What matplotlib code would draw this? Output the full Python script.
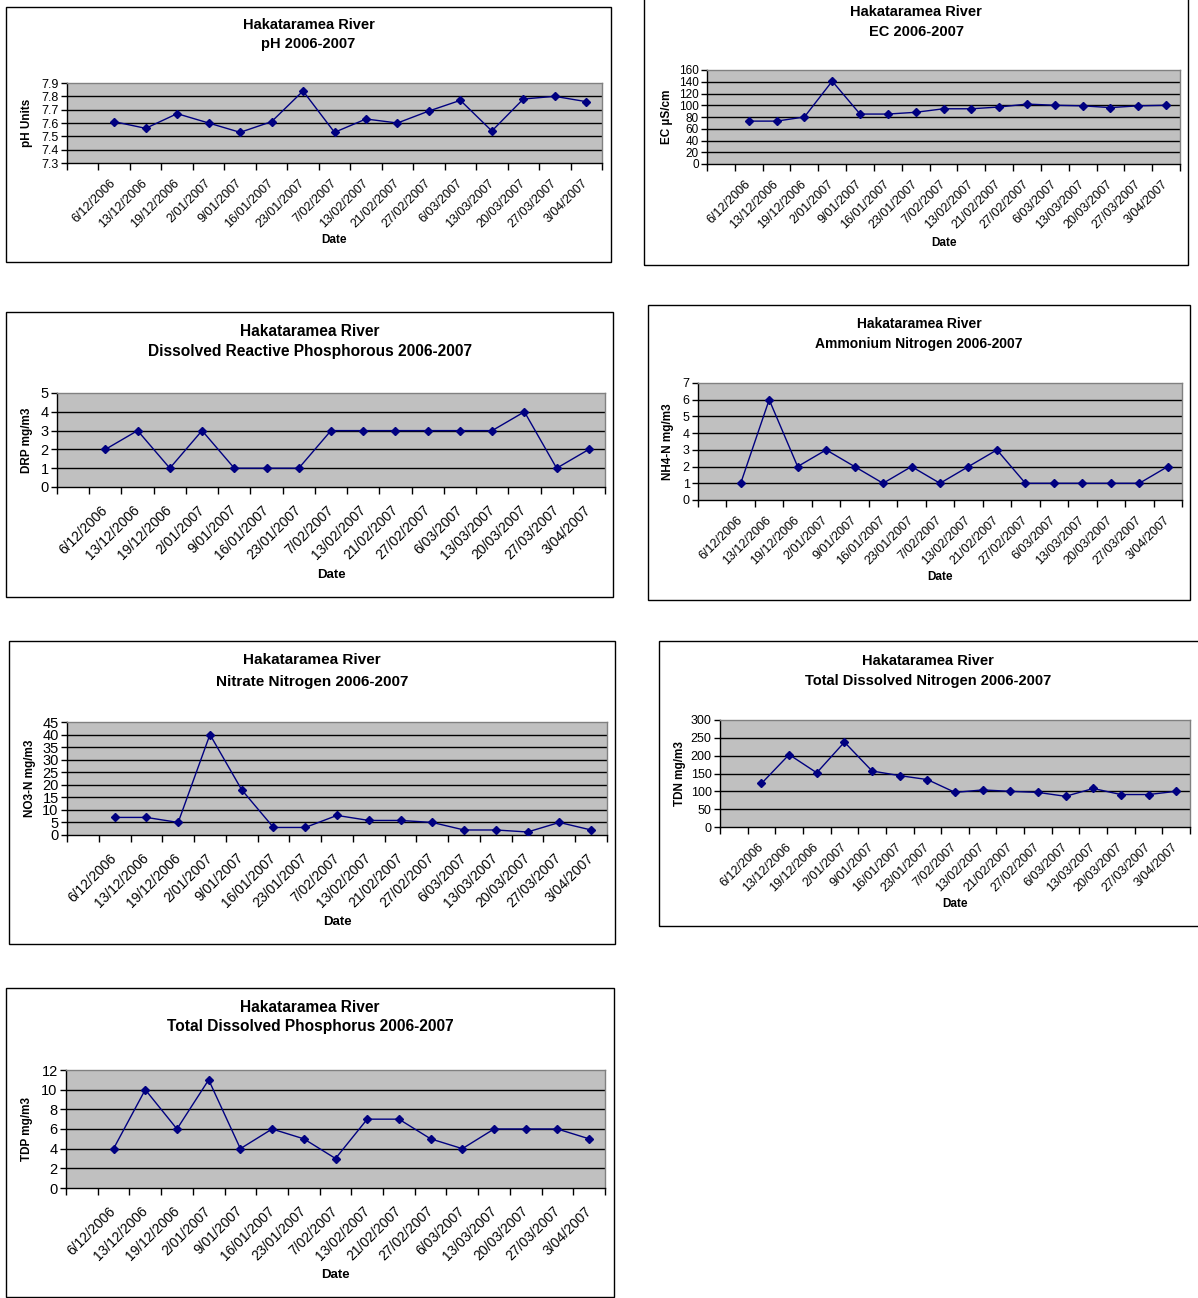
import numpy as np
import matplotlib
matplotlib.use("Agg")
import matplotlib.pyplot as plt
from matplotlib.patches import Rectangle

plt.rcParams['font.family'] = ['Liberation Sans', 'DejaVu Sans']

# ---------------- data ----------------
dates = ["6/12/2006", "13/12/2006", "19/12/2006", "2/01/2007", "9/01/2007",
         "16/01/2007", "23/01/2007", "7/02/2007", "13/02/2007", "21/02/2007",
         "27/02/2007", "6/03/2007", "13/03/2007", "20/03/2007", "27/03/2007",
         "3/04/2007"]

ph_vals = [7.61, 7.56, 7.67, 7.60, 7.53, 7.61, 7.84, 7.53, 7.63, 7.60,
           7.69, 7.77, 7.54, 7.78, 7.80, 7.76]
ec_vals = [73, 73, 80, 141, 85, 85, 88, 94, 94, 97, 102, 100, 99, 96, 99, 100]
drp_vals = [2, 3, 1, 3, 1, 1, 1, 3, 3, 3, 3, 3, 3, 4, 1, 2]
nh4_vals = [1, 6, 2, 3, 2, 1, 2, 1, 2, 3, 1, 1, 1, 1, 1, 2]
no3_vals = [7, 7, 5, 40, 18, 3, 3, 7.8, 5.8, 5.8, 5, 2, 2, 1.2, 5, 2]
tdn_vals = [122, 203, 152, 238, 157, 144, 133, 97, 104, 100, 97, 86, 108, 91, 91, 100]
tdp_vals = [4, 10, 6, 11, 4, 6, 5, 3, 7, 7, 5, 4, 6, 6, 6, 5]

ph_ticks = [7.3, 7.4, 7.5, 7.6, 7.7, 7.8, 7.9]
ec_ticks = [0, 20, 40, 60, 80, 100, 120, 140, 160]
drp_ticks = [0, 1, 2, 3, 4, 5]
nh4_ticks = [0, 1, 2, 3, 4, 5, 6, 7]
no3_ticks = [0, 5, 10, 15, 20, 25, 30, 35, 40, 45]
tdn_ticks = [0, 50, 100, 150, 200, 250, 300]
tdp_ticks = [0, 2, 4, 6, 8, 10, 12]

river = "Hakataramea River"

W, H = 1198, 1298
fig = plt.figure(figsize=(W / 100, H / 100), dpi=100)
fig.patch.set_facecolor('white')


def fx(x):
    return x / W


def fy(y):
    return 1 - y / H


def panel(box, plot, title2, ylabel, vals, yticks, yfmt, title_y, ylabel_x, date_y,
          ytick_fs=9, date_fs=9, pad=13, title_cx=None, title_fs=10.5):
    bx0, by0, bx1, by1 = box
    fig.patches.append(Rectangle((fx(bx0), fy(by1)), fx(bx1 - bx0), (by1 - by0) / H,
                                 transform=fig.transFigure, facecolor='none',
                                 edgecolor='black', linewidth=1.0, zorder=0))
    px0, py0, px1, py1 = plot
    ax = fig.add_axes([fx(px0), fy(py1), fx(px1 - px0), (py1 - py0) / H])
    ax.set_facecolor('#C0C0C0')
    n = len(dates) + 1
    xs = np.arange(1, len(vals) + 1)
    ax.plot(xs, vals, color='#000080', linewidth=1.0, marker='D', markersize=4,
            markerfacecolor='#000080', markeredgecolor='#000080', zorder=3)
    ax.set_xlim(-0.5, n - 0.5)
    ax.set_ylim(yticks[0], yticks[-1])
    for t in yticks[1:-1]:
        ax.axhline(t, color='black', linewidth=1.0, zorder=1)
    ax.set_yticks(yticks)
    ax.set_yticklabels([yfmt.format(t) for t in yticks], fontsize=ytick_fs)
    ax.set_xticks(np.arange(1, len(dates) + 1))
    ax.set_xticklabels(dates, rotation=45, ha='right', va='center',
                       rotation_mode='anchor', fontsize=date_fs)
    ax.set_xticks(np.arange(0, n + 1) - 0.5, minor=True)
    ax.tick_params(axis='x', which='major', length=0, pad=pad)
    ax.tick_params(axis='x', which='minor', length=5, width=1, color='black', direction='out')
    ax.tick_params(axis='y', length=4, width=1, color='black', direction='out', pad=2)
    ax.spines['left'].set_color('black')
    ax.spines['bottom'].set_color('black')
    ax.spines['top'].set_color('#808080')
    ax.spines['right'].set_color('#808080')
    for s in ax.spines.values():
        s.set_linewidth(1.0)
    cx = title_cx if title_cx is not None else (bx0 + bx1) / 2
    fig.text(fx(cx), fy(title_y[0]), river, ha='center', va='center',
             fontsize=title_fs, fontweight='bold')
    fig.text(fx(cx), fy(title_y[1]), title2, ha='center', va='center',
             fontsize=title_fs, fontweight='bold')
    fig.text(fx(ylabel_x), fy((py0 + py1) / 2), ylabel, ha='center', va='center',
             rotation=90, fontsize=8.5, fontweight='bold')
    fig.text(fx((px0 + px1) / 2), fy(date_y), "Date", ha='center', va='center',
             fontsize=8.5 if date_fs < 10 else 9.5, fontweight='bold')
    return ax


panel((6, 7, 611, 262), (67, 83, 602, 163), "pH 2006-2007", "pH Units",
      ph_vals, ph_ticks, "{:.1f}", (25, 44), 27, 240)
panel((644, -2, 1188, 265), (707, 70, 1180, 164), "EC 2006-2007", "EC µS/cm",
      ec_vals, ec_ticks, "{:d}", (12, 32), 667, 243, ytick_fs=8.5)
panel((6, 312, 613, 597), (57, 393, 605, 487), "Dissolved Reactive Phosphorous 2006-2007",
      "DRP mg/m3", drp_vals, drp_ticks, "{:d}", (331, 352), 27, 575,
      ytick_fs=10.5, date_fs=10, pad=15, title_fs=11.2)
panel((648, 305, 1190, 600), (698, 383, 1182, 500), "Ammonium Nitrogen 2006-2007",
      "NH4-N mg/m3", nh4_vals, nh4_ticks, "{:d}", (324, 344), 668, 577, title_fs=10)
panel((9, 641, 615, 944), (67, 722, 607, 835), "Nitrate Nitrogen 2006-2007",
      "NO3-N mg/m3", no3_vals, no3_ticks, "{:d}", (660, 682), 30, 922,
      ytick_fs=10.5, date_fs=10, pad=15, title_fs=11)
panel((659, 641, 1210, 926), (720, 720, 1190, 827), "Total Dissolved Nitrogen 2006-2007",
      "TDN mg/m3", tdn_vals, tdn_ticks, "{:d}", (661, 681), 680, 904, title_cx=928)
panel((6, 988, 614, 1297), (66, 1070, 605, 1188), "Total Dissolved Phosphorus 2006-2007",
      "TDP mg/m3", tdp_vals, tdp_ticks, "{:d}", (1007, 1027), 27, 1275,
      ytick_fs=10.5, date_fs=10, pad=15, title_fs=11.2)

fig.savefig("out.png", dpi=100)
